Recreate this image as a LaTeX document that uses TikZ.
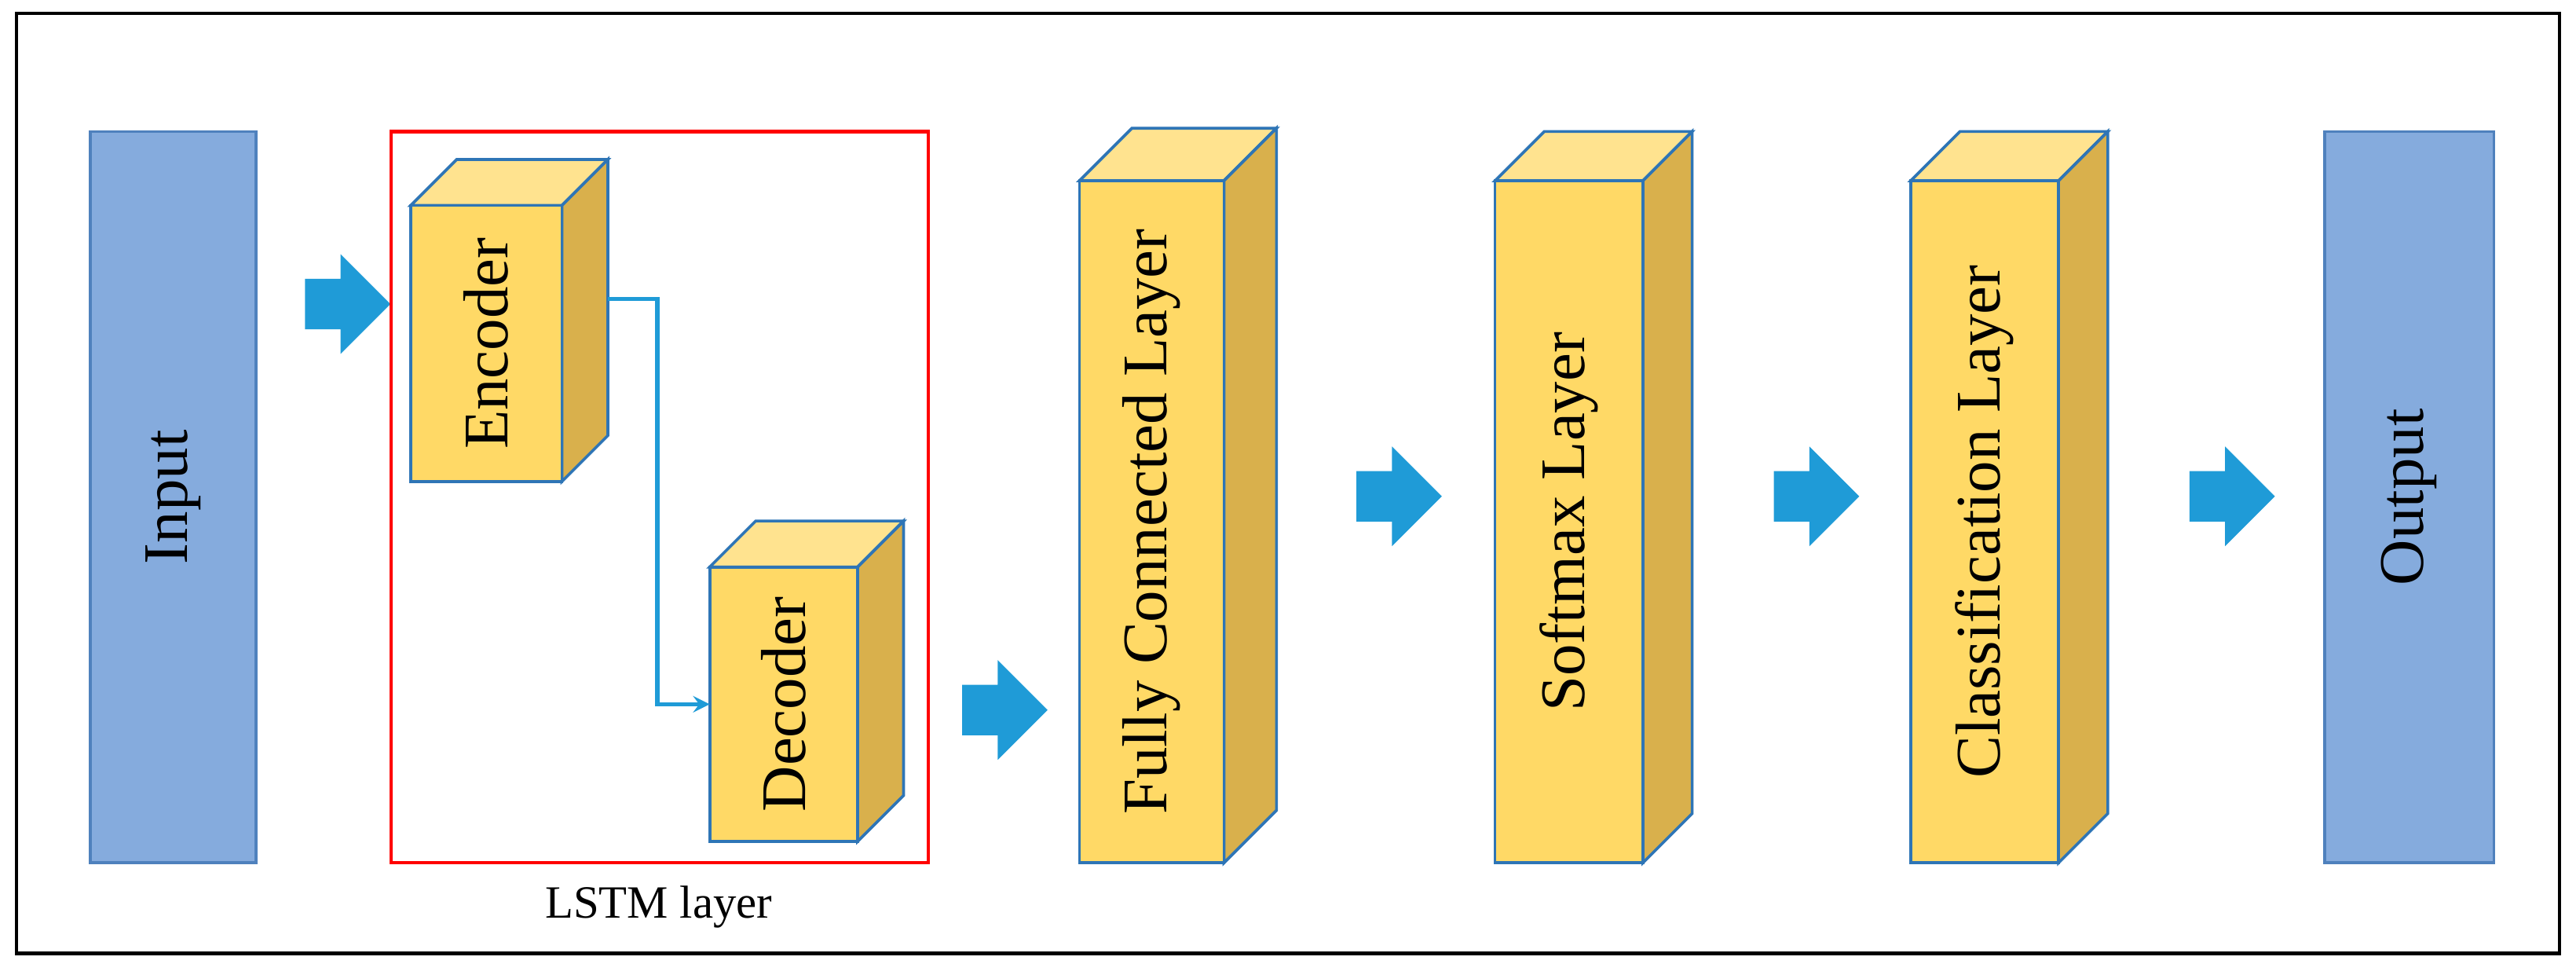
\documentclass[tikz,border=0pt]{standalone}
\usepackage{fontspec}
\setmainfont{Liberation Serif}
\usetikzlibrary{shapes.arrows}
\definecolor{bd}{HTML}{2E75B6}
\definecolor{frontc}{HTML}{FFD966}
\definecolor{topc}{HTML}{FFE38F}
\definecolor{sidec}{HTML}{D9B04C}
\definecolor{inc}{HTML}{85ABDD}
\definecolor{inbd}{HTML}{4F81BD}
\definecolor{arrc}{HTML}{1F9BD7}
\tikzset{
 bigarrow/.style={single arrow, fill=arrc, draw=none, minimum height=1.04cm, minimum width=1.2cm, inner sep=0.3cm, single arrow head extend=0.3cm},
 cubeline/.style={draw=bd, line width=1pt},
 lbl/.style={rotate=90, font=\fontsize{22}{26}\selectfont},
 iobox/.style={draw=inbd, fill=inc, line width=1pt}
}
\newcommand\mycube[7]{%
 \path[cubeline, fill=topc] (#2,#3) -- (#2+#6,#3-#6) -- (#4+#6,#3-#6) -- (#4,#3) -- cycle;
 \path[cubeline, fill=sidec] (#4,#3) -- (#4+#6,#3-#6) -- (#4+#6,#5-#6) -- (#4,#5) -- cycle;
 \path[cubeline, fill=frontc] (#2,#3) rectangle (#4,#5);
 \node[lbl] (#1) at ({(#2+#4)/2},{(#3+#5)/2}) {#7};
 \coordinate (#1-w) at (#2,{(#3+#5)/2});
}
\begin{document}
\begin{tikzpicture}[x=0.02cm,y=-0.02cm]
\useasboundingbox (0,0) rectangle (1568,593);
\draw[line width=1.2pt] (10,8) rectangle (1558,580);
% input
\path[iobox] (55,80) rectangle (156,525);
\node[lbl] (in) at (105.5,302.5) {Input};
\node[bigarrow] (a1) at (204,185) {};
% LSTM box
\draw[red, line width=1.2pt] (238,80) rectangle (565,525);
\node[font=\fontsize{16}{19}\selectfont] (lstm) at (401,552) {LSTM layer};
\mycube{enc}{250}{125}{342}{293}{28}{Encoder}
\mycube{dec}{432}{345}{522}{512}{28}{Decoder}
\coordinate (encout) at (370,182);
\draw[arrc, line width=1.5pt, -stealth] (encout) -- (400,182) |- (dec-w);
\node[bigarrow] (a2) at (604,432) {};
\mycube{fc}{657}{110}{745}{525}{32}{Fully Connected Layer}
\node[bigarrow] (a3) at (844,302) {};
\mycube{sm}{910}{110}{1000}{525}{30}{Softmax Layer}
\node[bigarrow] (a4) at (1098,302) {};
\mycube{cl}{1163}{110}{1253}{525}{30}{Classification Layer}
\node[bigarrow] (a5) at (1351,302) {};
\path[iobox] (1415,80) rectangle (1518,525);
\node[lbl] (out) at (1466.5,302.5) {Output};
\end{tikzpicture}
\end{document}
